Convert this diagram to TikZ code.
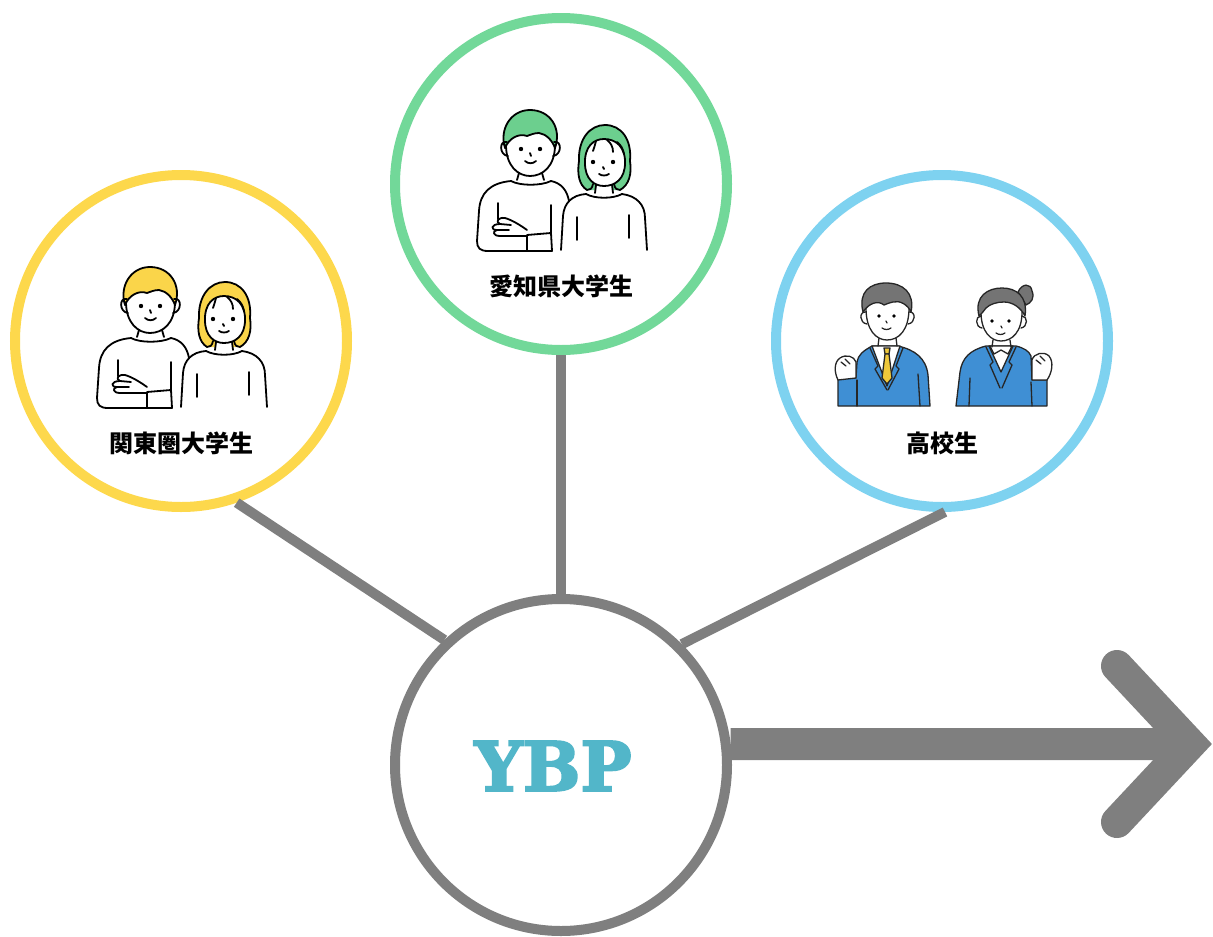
\documentclass[tikz,border=0pt]{standalone}
\usepackage{fontspec}
\newfontfamily\jpfont{Noto Sans CJK JP}
\newfontfamily\logofont{DejaVu Serif}[BoldFeatures={FakeBold=3}]
\definecolor{ringyellow}{HTML}{FDD84C}
\definecolor{ringgreen}{HTML}{72D899}
\definecolor{ringblue}{HTML}{7ED2F0}
\definecolor{linkgray}{HTML}{7F7F7F}
\definecolor{hairyellow}{HTML}{FAD54A}
\definecolor{hairgreen}{HTML}{6CCF8E}
\definecolor{hairgray}{HTML}{747474}
\definecolor{blazer}{HTML}{3F8FD4}
\definecolor{tiegold}{HTML}{EFC83A}
\definecolor{logoteal}{HTML}{52B6C9}

\tikzset{
  ring/.style={circle, fill=white, line width=10pt, minimum size=332pt, inner sep=0pt},
  link/.style={draw=linkgray, line width=10pt},
  lbl/.style={font=\jpfont\bfseries\fontsize{24}{28}\selectfont, inner sep=0pt},
  ink/.style={line width=1.8pt, line cap=round, line join=round},
  thinink/.style={line width=1.3pt, line cap=round, line join=round, draw=black!85},
}

% two students with crossed arms; coordinates around a ring centred at (181,341)
\newcommand\pairsketch[1]{%
  % young man
  \filldraw[ink, fill=#1] (125,305) .. controls (119,286) and (131,267) .. (150,267)
    .. controls (170,267) and (182,285) .. (175,305)
    .. controls (172,297) and (166,291) .. (159,290)
    .. controls (154,290) and (150,292) .. (147,293)
    .. controls (139,290) and (129,295) .. cycle;
  \draw[ink] (126,302) .. controls (126,323) and (138,333) .. (150,333)
    .. controls (163,333) and (175,323) .. (175,302);
  \draw[ink] (127,299) .. controls (119,297) and (119,312) .. (128,313);
  \draw[ink] (174,299) .. controls (182,297) and (182,312) .. (173,313);
  \fill (141,306) circle[radius=2.2pt];
  \fill (160,306) circle[radius=2.2pt];
  \draw[ink] (150,310) -- (151,313);
  \draw[ink] (145,318) .. controls (148,321) and (153,321) .. (156,318);
  \draw[ink] (139,330) -- (137,337);
  \draw[ink] (162,330) -- (164,337);
  \draw[ink] (131,338) .. controls (140,343) and (161,343) .. (171,338);
  \draw[ink] (131,338) .. controls (110,340) and (100,350) .. (99,368) -- (97,398)
    .. controls (97,405) and (100,408) .. (108,408) -- (172,408);
  \draw[ink] (171,338) .. controls (181,340) and (187,347) .. (189,358);
  \draw[ink] (118,360) -- (118,376);
  \draw[ink] (171,362) -- (171,390);
  \draw[ink] (147,408) -- (147,392) -- (171,390) -- (172,408);
  \draw[ink] (147,387) .. controls (140,382) and (132,377) .. (125,375)
    .. controls (118,374) and (115,379) .. (120,381) -- (131,382);
  \draw[ink] (120,381) .. controls (111,381) and (110,387) .. (117,387) -- (129,387);
  \draw[ink] (117,387) .. controls (112,388) and (113,393) .. (120,393) -- (147,393);
  % young woman
  \fill[white] (206,351) .. controls (192,352) and (184,360) .. (183,373) -- (181,408)
    -- (267,408) -- (265,375) .. controls (265,362) and (257,353) .. (242,351) -- cycle;
  \fill[#1] (207,347) .. controls (199,342) and (197,331) .. (199,318)
    .. controls (198,296) and (210,282) .. (225,282)
    .. controls (241,282) and (252,296) .. (250,318)
    .. controls (252,331) and (249,342) .. (240,347) -- cycle;
  \fill[white] (205,320) .. controls (205,336) and (214,343) .. (224,343)
    .. controls (235,343) and (245,336) .. (245,320)
    .. controls (246,304) and (236,296) .. (224,296)
    .. controls (214,296) and (204,303) .. cycle;
  \fill[white] (215,338) rectangle (233,352);
  \draw[ink] (213,341) .. controls (212,346) and (210,347) .. (207,347)
    .. controls (199,342) and (197,331) .. (199,318)
    .. controls (198,296) and (210,282) .. (225,282)
    .. controls (241,282) and (252,296) .. (250,318)
    .. controls (252,331) and (249,342) .. (240,347)
    .. controls (237,347) and (235,346) .. (234,341);
  \draw[ink] (205,320) .. controls (205,336) and (214,343) .. (224,343)
    .. controls (235,343) and (245,336) .. (245,320);
  \draw[ink] (205,322) .. controls (204,303) and (214,296) .. (224,296)
    .. controls (236,296) and (246,304) .. (245,322);
  \draw[ink] (216,298) .. controls (215,302) and (214,305) .. (213,308);
  \draw[ink] (227,297) .. controls (231,300) and (233,304) .. (233,309);
  \draw[ink] (237,299) .. controls (241,302) and (243,306) .. (244,311);
  \fill (213,319) circle[radius=2.2pt];
  \fill (233,319) circle[radius=2.2pt];
  \draw[ink] (223,324) -- (224,326);
  \draw[ink] (219,331) .. controls (222,333) and (226,333) .. (229,331);
  \draw[ink] (216,342) -- (215,350);
  \draw[ink] (232,342) -- (233,350);
  \draw[ink] (206,351) .. controls (215,356) and (233,356) .. (242,351);
  \draw[ink] (206,351) .. controls (192,352) and (184,360) .. (183,373) -- (181,407);
  \draw[ink] (242,351) .. controls (257,353) and (265,362) .. (265,375) -- (267,407);
  \draw[ink] (197,374) -- (197,397);
  \draw[ink] (249,372) -- (249,395);
}

\begin{document}
\begin{tikzpicture}[x=1pt, y=-1pt]
  \useasboundingbox (0,0) rectangle (1213,937);

  % rings
  \node[ring, draw=ringyellow] (kanto) at (181,341) {};
  \node[ring, draw=ringgreen]  (aichi) at (561,184) {};
  \node[ring, draw=ringblue]   (kosei) at (942,341) {};
  \node[ring, draw=linkgray]   (ybp)   at (561,765) {};

  % spokes into the centre ring
  \draw[link] (kanto.-71) -- (ybp.133);
  \draw[link] (aichi.south) -- (ybp.north);
  \draw[link] (kosei.-89) -- (ybp.45);

  % big arrow to the right
  \coordinate (tip) at (1190,744);
  \coordinate (armtop) at (1117,666);
  \coordinate (armbot) at (1117,822);
  \draw[draw=linkgray, line width=32pt] (ybp.7) -- (tip);
  \draw[draw=linkgray, line width=32pt, line cap=round, line join=miter]
    (armtop) -- (tip) -- (armbot);

  % illustrations
  \begin{scope}[shift={(kanto.center)}]
    \begin{scope}[shift={(-181,-341)}]
      \pairsketch{hairyellow}
    \end{scope}
  \end{scope}
  \begin{scope}[shift={(aichi.center)}]
    \begin{scope}[shift={(-181,-341)}]
      \pairsketch{hairgreen}
    \end{scope}
  \end{scope}

  % high-school boy
  \filldraw[thinink, fill=blazer] (838,406) -- (838,378) -- (856,378) -- (857,362)
    .. controls (858,355) and (863,351) .. (872,346) -- (898,346)
    .. controls (915,350) and (926,358) .. (928,375) -- (930,406) -- cycle;
  \filldraw[thinink, fill=white] (872,346) -- (887,386) -- (900,346) -- cycle;
  \draw[thinink] (870,348) -- (878,366) -- (875,369) -- (887,390);
  \draw[thinink] (903,348) -- (896,366) -- (899,369) -- (888,390);
  \filldraw[thinink, fill=tiegold] (884,348) -- (890,348) -- (889,354) -- (885,354) -- cycle;
  \filldraw[thinink, fill=tiegold] (885,354) -- (889,354) -- (892,378) -- (887,384) -- (882,378) -- cycle;
  \draw[thinink] (857,380) -- (857,406);
  \draw[thinink] (918,374) -- (920,406);
  \filldraw[thinink, fill=white] (838,380) .. controls (834,372) and (834,362) .. (840,358)
    .. controls (846,354) and (854,356) .. (856,362) -- (856,378) -- cycle;
  \draw[thinink] (841,362) -- (846,366);
  \draw[thinink] (845,359) -- (850,364);
  \filldraw[thinink, fill=white] (866,312) .. controls (859,311) and (859,323) .. (867,324);
  \filldraw[thinink, fill=white] (909,312) .. controls (916,311) and (916,323) .. (908,324);
  \fill[white] (866,300) .. controls (866,330) and (876,340) .. (887,340)
    .. controls (899,340) and (909,330) .. (909,300) -- cycle;
  \draw[thinink] (866,308) .. controls (866,330) and (876,340) .. (887,340)
    .. controls (899,340) and (909,330) .. (909,308);
  \filldraw[thinink, fill=hairgray] (863,312) .. controls (858,292) and (870,283) .. (886,283)
    .. controls (903,283) and (915,293) .. (911,312)
    .. controls (908,305) and (900,300) .. (893,302)
    .. controls (889,303) and (886,304) .. (884,305)
    .. controls (878,300) and (869,303) .. cycle;
  \fill (879,316) circle[radius=1.8pt];
  \fill (894,316) circle[radius=1.8pt];
  \draw[thinink] (886,321) -- (887,323);
  \draw[thinink] (882,328) .. controls (885,330) and (888,330) .. (891,328);
  \draw[thinink] (879,338) -- (878,346);
  \draw[thinink] (896,338) -- (897,346);

  % high-school girl
  \filldraw[thinink, fill=blazer] (956,406) -- (960,372)
    .. controls (962,358) and (970,350) .. (986,346) -- (1016,346)
    .. controls (1024,348) and (1029,351) .. (1031,356) -- (1032,380)
    -- (1047,380) -- (1047,406) -- cycle;
  \filldraw[thinink, fill=white] (989,346) -- (1001,372) -- (1013,346) -- cycle;
  \draw[thinink] (986,347) -- (993,362) -- (990,365) -- (1000,388);
  \draw[thinink] (1016,347) -- (1009,362) -- (1012,365) -- (1002,388);
  \draw[thinink] (990,346) -- (994,354) -- (1001,350) -- (1008,354) -- (1012,346);
  \draw[thinink] (970,378) -- (969,406);
  \draw[thinink] (1031,382) -- (1032,406);
  \filldraw[thinink, fill=white] (1032,380) -- (1032,360)
    .. controls (1034,353) and (1044,351) .. (1049,356)
    .. controls (1054,362) and (1052,373) .. (1047,380) -- cycle;
  \draw[thinink] (1036,360) -- (1041,364);
  \draw[thinink] (1040,356) -- (1045,361);
  \filldraw[thinink, fill=hairgray] (1018,292) .. controls (1022,283) and (1031,283) .. (1032,291)
    .. controls (1035,298) and (1031,303) .. (1026,305) -- cycle;
  \filldraw[thinink, fill=white] (981,316) .. controls (975,316) and (975,327) .. (982,328);
  \filldraw[thinink, fill=white] (1022,316) .. controls (1028,316) and (1028,327) .. (1021,328);
  \fill[white] (981,302) .. controls (981,332) and (991,341) .. (1001,341)
    .. controls (1012,341) and (1022,332) .. (1022,302) -- cycle;
  \draw[thinink] (981,312) .. controls (981,332) and (991,341) .. (1001,341)
    .. controls (1012,341) and (1022,332) .. (1022,312);
  \filldraw[thinink, fill=hairgray] (979,316) .. controls (974,296) and (988,288) .. (1002,288)
    .. controls (1016,288) and (1028,296) .. (1025,316)
    .. controls (1021,308) and (1013,302) .. (1004,302)
    .. controls (997,302) and (990,304) .. (986,308)
    .. controls (984,311) and (982,313) .. cycle;
  \fill (992,321) circle[radius=1.8pt];
  \fill (1009,321) circle[radius=1.8pt];
  \draw[thinink] (1001,326) -- (1002,328);
  \draw[thinink] (996,333) .. controls (999,335) and (1002,335) .. (1005,333);
  \draw[thinink] (993,340) -- (992,347);
  \draw[thinink] (1010,340) -- (1011,347);

  % captions
  \node[lbl] (kantolbl) at (181,443) {関東圏大学生};
  \node[lbl] (aichilbl) at (561,286) {愛知県大学生};
  \node[lbl] (koseilbl) at (942,443) {高校生};

  % centre logo
  \node[font=\logofont\bfseries\fontsize{68}{80}\selectfont, text=logoteal, inner sep=0pt]
    (logo) at (553,766) {YBP};
\end{tikzpicture}
\end{document}
